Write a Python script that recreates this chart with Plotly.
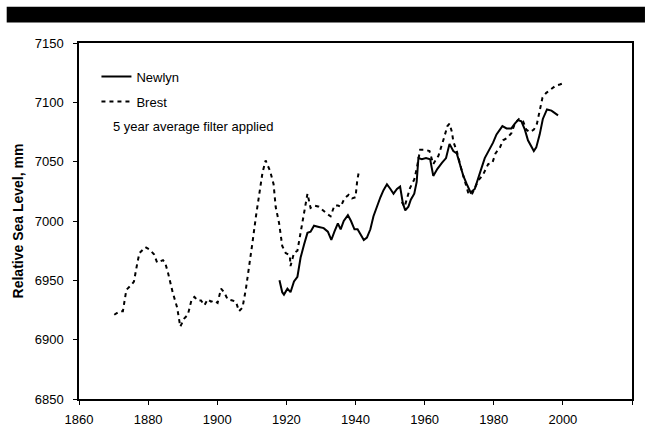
import plotly.graph_objects as go

newlyn_year = [1918.0, 1918.8, 1919.3, 1920.3, 1921.2, 1922.2, 1923.2, 1924.1, 1925.1, 1926.1,
               1927.0, 1928.0, 1929.4, 1930.8, 1932.0, 1933.0, 1933.9, 1934.9, 1935.7, 1936.6,
               1937.8, 1938.7, 1939.7, 1940.6, 1941.4, 1942.4, 1943.3, 1944.3, 1945.2, 1946.2,
               1947.2, 1948.1, 1949.1, 1950.1, 1951.0, 1952.0, 1952.9, 1953.7, 1954.4, 1955.3,
               1956.0, 1957.0, 1957.7, 1958.2, 1959.2, 1960.4, 1961.6, 1962.5, 1963.7, 1965.0,
               1966.2, 1967.2, 1968.3, 1969.3, 1970.2, 1971.2, 1972.2, 1973.3, 1974.5, 1975.5,
               1976.5, 1977.4, 1978.7, 1979.8, 1980.8, 1981.8, 1982.5, 1983.7, 1985.1, 1986.1,
               1987.0, 1988.0, 1989.0, 1989.9, 1990.9, 1991.6, 1992.3, 1993.3, 1994.2, 1995.4,
               1996.7, 1998.6]
newlyn_mm = [6950, 6940, 6938, 6943, 6940, 6949, 6953, 6969, 6980, 6990,
             6991, 6996, 6995, 6994, 6991, 6984, 6991, 6998, 6993, 7000,
             7005, 7000, 6993, 6993, 6989, 6984, 6986, 6993, 7004, 7013,
             7020, 7026, 7031, 7027, 7023, 7027, 7029, 7015, 7009, 7012,
             7018, 7023, 7033, 7053, 7052, 7053, 7052, 7038, 7044, 7049,
             7053, 7065, 7059, 7057, 7048, 7038, 7031, 7024, 7027, 7037,
             7045, 7053, 7060, 7066, 7073, 7077, 7080, 7078, 7078, 7082,
             7085, 7084, 7077, 7068, 7062, 7059, 7062, 7073, 7086, 7094,
             7093, 7089]

brest_year = [1870.2, 1871.8, 1872.7, 1873.7, 1875.1, 1875.9, 1876.9, 1877.5, 1879.2, 1880.4,
              1881.7, 1882.6, 1884.3, 1884.9, 1885.7, 1887.1, 1888.4, 1889.3, 1890.5, 1891.5,
              1892.6, 1893.4, 1894.3, 1895.3, 1896.3, 1897.2, 1898.2, 1899.1, 1900.1, 1901.1,
              1902.0, 1903.0, 1904.4, 1905.4, 1906.3, 1907.3, 1908.3, 1909.2, 1910.2, 1911.2,
              1912.1, 1913.1, 1914.0, 1915.3, 1916.3, 1916.9, 1917.9, 1918.8, 1919.8, 1921.0,
              1921.2, 1922.2, 1923.2, 1924.1, 1925.1, 1926.1, 1927.0, 1928.0, 1929.4, 1930.8,
              1931.8, 1932.8, 1933.9, 1934.9, 1935.7, 1936.8, 1938.0, 1939.0, 1940.0, 1940.5,
              1941.0,
              None,
              1953.4, 1954.2, 1955.8, 1957.0, 1957.7, 1958.7, 1960.1, 1961.4, 1962.5, 1964.0,
              1965.4, 1966.6, 1967.2, 1967.9, 1968.3, 1969.3, 1970.5, 1971.5, 1972.6, 1973.6,
              1974.3, 1975.5, 1976.9, 1978.4, 1979.6, 1980.5, 1981.8, 1982.7, 1983.9, 1985.1,
              1986.1, 1987.3, 1988.5, 1989.4, 1990.4, 1991.6, 1992.5, 1993.3, 1994.1, 1995.2,
              1996.7, 1997.9, 1999.1, 2000.0]
brest_mm = [6921, 6924, 6924, 6942, 6946, 6949, 6965, 6973, 6978, 6976,
            6972, 6965, 6967, 6965, 6957, 6940, 6927, 6911, 6918, 6921,
            6934, 6936, 6933, 6933, 6929, 6934, 6932, 6933, 6931, 6943,
            6940, 6934, 6933, 6932, 6924, 6927, 6943, 6960, 6982, 7004,
            7023, 7041, 7051, 7042, 7031, 7012, 6998, 6979, 6973, 6971,
            6962, 6973, 6975, 6990, 7006, 7023, 7011, 7013, 7012, 7008,
            7006, 7004, 7013, 7013, 7012, 7019, 7022, 7019, 7020, 7034,
            7042,
            None,
            7016, 7012, 7028, 7035, 7044, 7060, 7060, 7059, 7048, 7055,
            7068, 7080, 7082, 7075, 7067, 7059, 7045, 7035, 7024, 7022,
            7026, 7034, 7039, 7048, 7049, 7057, 7062, 7068, 7070, 7074,
            7082, 7086, 7084, 7077, 7075, 7077, 7082, 7093, 7104, 7108,
            7111, 7114, 7115, 7116]

x_ticks = [1860, 1880, 1900, 1920, 1940, 1960, 1980, 2000, 2020]
y_ticks = [6850, 6900, 6950, 7000, 7050, 7100, 7150]

FONT = "Arial, Liberation Sans, sans-serif"

fig = go.Figure()
fig.add_trace(go.Scatter(x=newlyn_year, y=newlyn_mm, mode="lines", name="Newlyn",
                         legendgroup="a",
                         line=dict(color="black", width=2)))
fig.add_trace(go.Scatter(x=brest_year, y=brest_mm, mode="lines", name="Brest",
                         legendgroup="b", connectgaps=False,
                         line=dict(color="black", width=2, dash="4px,4px")))

W, H = 646, 439
L, R, T, B = 78.5, 13, 43, 33
ph = H - T - B
pw = W - L - R

fig.add_shape(type="rect", xref="paper", yref="paper",
              x0=(6 - L) / pw, x1=(646 - L) / pw,
              y0=(H - B - 22) / ph, y1=(H - B - 6) / ph,
              fillcolor="black", line=dict(width=0), layer="above")

fig.add_annotation(text="5 year average filter applied", xref="paper", yref="paper",
                   x=(111 - L) / pw, y=(H - B - 128) / ph, xanchor="left", yanchor="middle",
                   showarrow=False, font=dict(family=FONT, size=13, color="black"))

fig.update_layout(
    width=W, height=H,
    margin=dict(l=L, r=R, t=T, b=B, pad=0),
    paper_bgcolor="white", plot_bgcolor="white",
    font=dict(family=FONT, size=13, color="black"),
    showlegend=True,
    legend=dict(x=(96 - L) / pw, y=(H - B - 62) / ph, xanchor="left", yanchor="top",
                bgcolor="rgba(0,0,0,0)", font=dict(family=FONT, size=13),
                tracegroupgap=5, itemwidth=30),
    xaxis=dict(range=[1860, 2020], tickvals=x_ticks, ticktext=[str(v) for v in x_ticks],
               showgrid=False, zeroline=False, showline=True, linecolor="black", linewidth=1.5,
               mirror=True, ticks="outside", ticklen=4, tickcolor="black", tickwidth=1,
               ticklabelstandoff=4, tickfont=dict(size=13)),
    yaxis=dict(range=[6850, 7150], tickvals=y_ticks, ticktext=[str(v) for v in y_ticks],
               showgrid=False, zeroline=False, showline=True, linecolor="black", linewidth=1.5,
               mirror=True, ticks="outside", ticklen=4, tickcolor="black", tickwidth=1,
               ticklabelstandoff=7, tickfont=dict(size=13),
               title=dict(text="<b>Relative Sea Level, mm</b>", font=dict(size=14), standoff=8)),
)

fig.write_html("out.html")
